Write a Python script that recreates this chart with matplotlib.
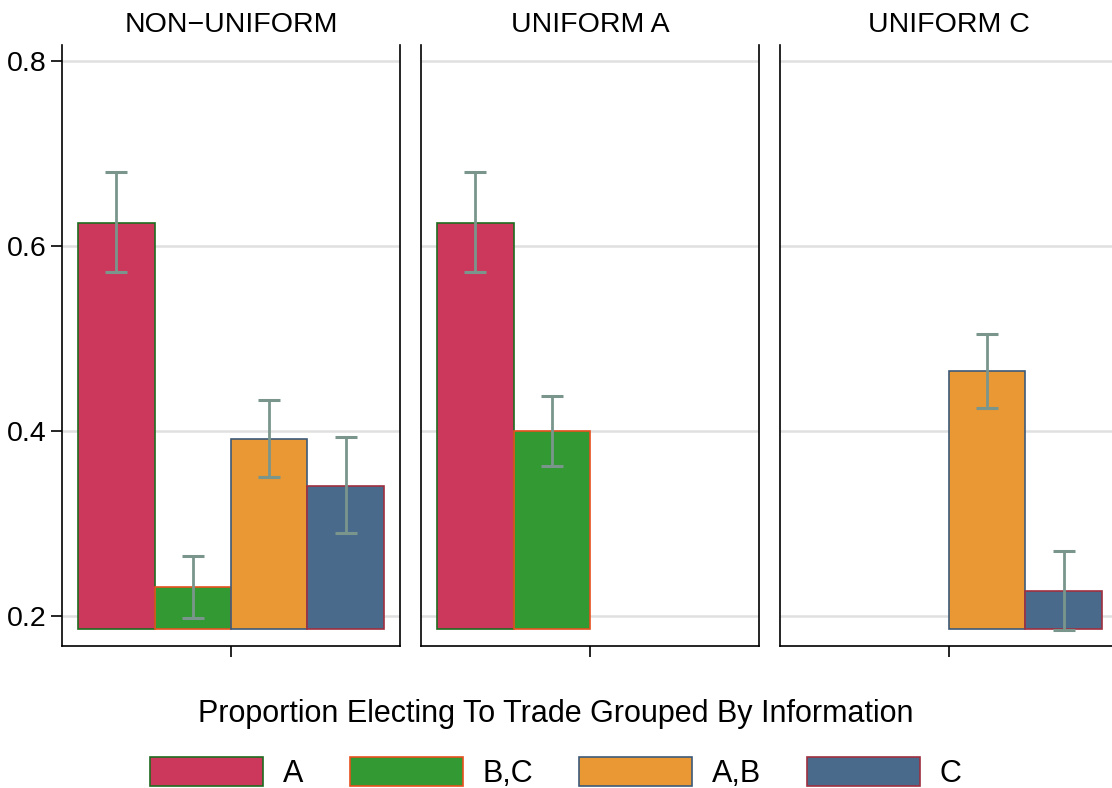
import matplotlib
matplotlib.use("Agg")
import matplotlib.pyplot as plt
from matplotlib.patches import Patch

plt.rcParams['font.family'] = ['Liberation Sans', 'DejaVu Sans']

panels = ['NON\u2212UNIFORM', 'UNIFORM A', 'UNIFORM C']
groups = ['A', 'B,C', 'A,B', 'C']
fill_colors = ['#CC385C', '#339933', '#E99834', '#4A6A8C']
edge_colors = ['#1E6B1E', '#E8501E', '#3D5A78', '#A03040']

# proportion per panel, None = no bar
means = [
    [0.625, 0.231, 0.391, 0.341],
    [0.625, 0.400, None, None],
    [None, None, 0.465, 0.227],
]
lower = [
    [0.572, 0.198, 0.350, 0.290],
    [0.572, 0.362, None, None],
    [None, None, 0.425, 0.185],
]
upper = [
    [0.680, 0.265, 0.433, 0.393],
    [0.680, 0.438, None, None],
    [None, None, 0.505, 0.270],
]
base = 0.186

fig = plt.figure(figsize=(11.12, 7.88), dpi=100)
W, H = 1112, 788
lefts = [62, 421, 780]
aw = 338
top, bottom = 45, 646

pos = [-1.5, -0.5, 0.5, 1.5]
for p in range(3):
    ax = fig.add_axes([lefts[p] / W, 1 - bottom / H, aw / W, (bottom - top) / H])
    for g in range(4):
        m = means[p][g]
        if m is None:
            continue
        ax.bar(pos[g], m - base, bottom=base, width=1.0, color=fill_colors[g],
               edgecolor=edge_colors[g], linewidth=1.2, zorder=2)
        ax.errorbar(pos[g], m, yerr=[[m - lower[p][g]], [upper[p][g] - m]],
                    fmt='none', ecolor='#7A968C', elinewidth=2, capsize=8,
                    capthick=2.2, zorder=3)
    ax.set_xlim(-2.21, 2.21)
    ax.set_ylim(0.1676, 0.8173)
    ax.set_yticks([0.2, 0.4, 0.6, 0.8])
    ax.grid(axis='y', color='#E0E0E0', linewidth=1.8, zorder=0)
    ax.set_axisbelow(True)
    ax.set_xticks([0])
    ax.set_xticklabels([''])
    ax.tick_params(axis='x', length=8, width=1.2)
    ax.spines['top'].set_visible(False)
    for s in ['left', 'right', 'bottom']:
        ax.spines[s].set_linewidth(1.2)
    if p == 0:
        ax.set_yticklabels(['0.2', '0.4', '0.6', '0.8'])
        ax.tick_params(axis='y', labelsize=20.5, length=8, width=1.2, pad=3)
    else:
        ax.tick_params(axis='y', left=False, labelleft=False)
    ax.set_title(panels[p], fontsize=20.5, pad=9)

handles = [Patch(facecolor=fill_colors[g], edgecolor=edge_colors[g], linewidth=1.2)
           for g in range(4)]
leg = fig.legend(handles, groups, loc='lower center', bbox_to_anchor=(0.5, -0.024),
                 ncol=4, frameon=False, fontsize=22, borderpad=0.1,
                 title='Proportion Electing To Trade Grouped By Information',
                 title_fontsize=22, handlelength=3.7, handleheight=1.1,
                 handletextpad=0.65, columnspacing=1.5)
leg._legend_box.sep = 20

fig.savefig('out.png', dpi=100)
